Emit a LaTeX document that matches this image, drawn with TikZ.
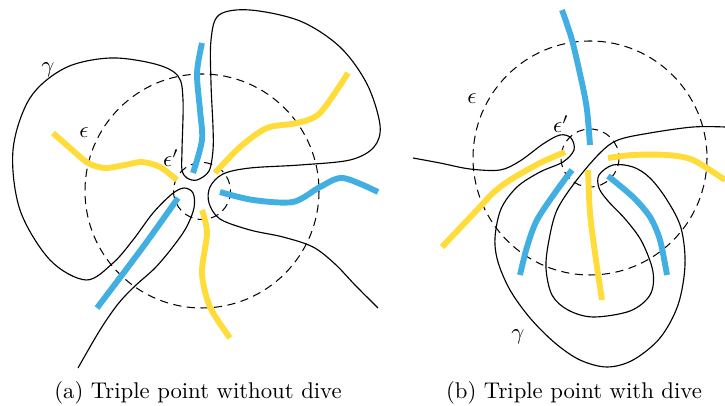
\documentclass[tikz,border=0pt]{standalone}
\usepackage{amsmath,amssymb}
\usepackage{tikz}
\usetikzlibrary{arrows.meta, positioning, calc}
\usepackage{xcolor}
\definecolor{strandblue}{HTML}{42AFE2}
\definecolor{strandyellow}{HTML}{FFDC3A}

\tikzset{
  curve/.style={black, line width=0.5pt},
  ball/.style={black, line width=0.45pt, dash pattern=on 3.6pt off 2.4pt},
  bluestrand/.style={strandblue, line width=2.6pt},
  yellowstrand/.style={strandyellow, line width=2.6pt},
}

\begin{document}
\begin{tikzpicture}[x=0.44pt, y=-0.44pt, font=\normalsize]
  \useasboundingbox (0,0) rectangle (725,406);

  % (a) the two balls
  \draw[ball] (202,191) circle (117);
  \draw[ball] (202,191) circle (28.5);
  % (a) the curve gamma
  \draw[curve] plot[smooth, tension=0.55] coordinates {
    (78,368) (100,330) (118,304) (135,286) (155,268) (172,248) (186,228) (194,208)
    (193,193) (184,188) (172,194) (153,213) (133,240) (113,263) (86,280)
    (50,260) (20,210) (13,150) (30,98) (65,68) (110,58) (155,64)
    (178,76) (183,100) (182,150) (182,170) (187,178) (197,180) (209,171)
    (213,150) (213,127) (211,83) (211,40) (219,15) (250,10) (300,21) (340,47) (367,84)
    (380,125) (374,147) (350,160) (300,165) (250,168) (223,174) (210,187) (209,203)
    (220,219) (250,230) (283,237) (313,247) (335,264) (355,285) (378,308)};
  % (a) the strands
  \draw[yellowstrand] plot[smooth] coordinates {(53,133) (70,148) (88,163) (105,168) (125,165) (142,162) (160,167) (177,180)};
  \draw[bluestrand] plot[smooth] coordinates {(202,43) (197,73) (200,110) (202,140) (193,173)};
  \draw[yellowstrand] plot[smooth] coordinates {(215,173) (240,147) (267,128) (297,123) (320,113) (348,73)};
  \draw[bluestrand] plot[smooth] coordinates {(220,192) (253,200) (293,202) (320,187) (343,178) (378,192)};
  \draw[yellowstrand] plot[smooth] coordinates {(202,210) (207,233) (202,273) (210,307) (230,338)};
  \draw[bluestrand] plot[smooth] coordinates {(178,198) (143,247) (97,308)};
  % (a) labels
  \node (gammaA) at (48,70) {$\gamma$};
  \node (epsA) at (84,133) {$\epsilon$};
  \node (epsprimeA) at (171,158) {$\epsilon'$};
  \node (capA) at (198,393) {(a) Triple point without dive};

  % (b) the two balls
  \draw[ball] (590,158) circle (117);
  \draw[ball] (590,158) circle (29);
  % (b) the curve gamma
  \draw[curve] plot[smooth, tension=0.55] coordinates {
    (413,158) (440,163) (470,169) (500,170) (520,161) (543,144) (560,135) (571,138)
    (574,150) (563,162) (540,172) (517,187) (501,209) (495,238) (498,262)
    (510,290) (530,318) (555,343) (580,360) (607,367) (633,360) (660,338) (678,305)
    (685,265) (681,228) (667,200) (650,178) (633,167) (613,165) (599,175) (599,188)
    (608,201) (626,220) (642,242) (653,272) (650,295) (630,311) (593,317)
    (568,310) (552,295) (546,268) (549,240) (557,210) (576,181) (600,153)
    (618,140) (650,133) (693,127) (725,127)};
  % (b) the strands
  \draw[bluestrand] plot[smooth] coordinates {(562,10) (572,40) (582,83) (587,110) (590,145)};
  \draw[yellowstrand] plot[smooth] coordinates {(608,158) (633,155) (667,155) (693,160) (725,180)};
  \draw[bluestrand] plot[smooth] coordinates {(608,176) (633,197) (650,217) (660,240) (667,275)};
  \draw[yellowstrand] plot[smooth] coordinates {(588,170) (590,213) (595,253) (602,300)};
  \draw[bluestrand] plot[smooth] coordinates {(572,170) (557,190) (537,220) (527,247) (520,275)};
  \draw[yellowstrand] plot[smooth] coordinates {(565,152) (540,163) (510,180) (493,193) (477,210) (442,247)};
  % (b) labels
  \node (gammaB) at (518,337) {$\gamma$};
  \node (epsB) at (472,99) {$\epsilon$};
  \node (epsprimeB) at (561,124) {$\epsilon'$};
  \node (capB) at (574,393) {(b) Triple point with dive};
\end{tikzpicture}
\end{document}
